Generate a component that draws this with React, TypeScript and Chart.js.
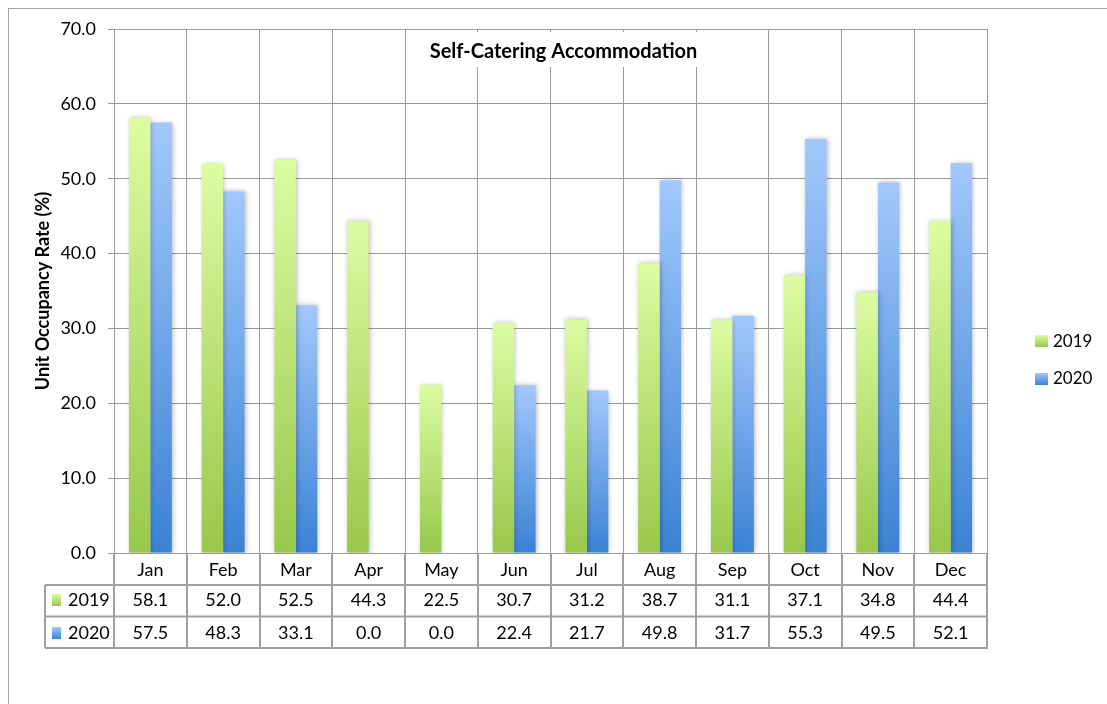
import { useEffect, useRef } from "react";
import { Chart, registerables } from "chart.js";

Chart.register(...registerables);

const months = ["Jan", "Feb", "Mar", "Apr", "May", "Jun", "Jul", "Aug", "Sep", "Oct", "Nov", "Dec"];
const series2019 = [58.1, 52.0, 52.5, 44.3, 22.5, 30.7, 31.2, 38.7, 31.1, 37.1, 34.8, 44.4];
const series2020 = [57.5, 48.3, 33.1, 0.0, 0.0, 22.4, 21.7, 49.8, 31.7, 55.3, 49.5, 52.1];
const seriesLabels = ["2019", "2020"];
const chartTitle = "Self-Catering Accommodation";
const yAxisTitle = "Unit Occupancy Rate (%)";
const yMin = 0;
const yMax = 70;
const yStep = 10;

const FONT = "Lato, 'Open Sans', sans-serif";
const GRID = "#9a9a9a";
const TABLE_LINE = "#a0a0a0";
const gradients = [
  { top: "#dcfca2", bottom: "#98c84a" },
  { top: "#a2c8fc", bottom: "#3a82d4" },
];

function barFill(idx: number) {
  return (ctx: any) => {
    const chart = ctx.chart;
    const fallback = gradients[idx].bottom;
    if (!chart.chartArea || ctx.type !== "data") return fallback;
    const ys = chart.scales.y;
    const y = ys.getPixelForValue(ctx.raw);
    const b = ys.getPixelForValue(0);
    if (b - y < 1) return fallback;
    const g = chart.ctx.createLinearGradient(0, y, 0, b);
    g.addColorStop(0, gradients[idx].top);
    g.addColorStop(1, gradients[idx].bottom);
    return g;
  };
}

function gradBox(c: CanvasRenderingContext2D, idx: number, x: number, y: number, w: number, h: number) {
  const g = c.createLinearGradient(0, y, 0, y + h);
  g.addColorStop(0, gradients[idx].top);
  g.addColorStop(1, gradients[idx].bottom);
  c.fillStyle = g;
  c.fillRect(x, y, w, h);
}

const shadowPlugin = {
  id: "barShadow",
  beforeDatasetsDraw(chart: any) {
    const c = chart.ctx;
    c.save();
    c.shadowColor = "rgba(0,0,0,0.28)";
    c.shadowBlur = 5;
    c.shadowOffsetX = 1;
    c.shadowOffsetY = 0;
  },
  afterDatasetsDraw(chart: any) {
    chart.ctx.restore();
  },
};

const borderPlugin = {
  id: "outerBorder",
  beforeDraw(chart: any) {
    const c = chart.ctx;
    c.save();
    c.fillStyle = "#ffffff";
    c.fillRect(0, 0, chart.width, chart.height);
    c.strokeStyle = "#a6a6a6";
    c.lineWidth = 1;
    c.strokeRect(8.5, 8.5, chart.width + 20, chart.height + 20);
    c.restore();
  },
};

const overlayPlugin = {
  id: "overlay",
  afterDraw(chart: any) {
    const c: CanvasRenderingContext2D = chart.ctx;
    const { left, right, bottom } = chart.chartArea;
    const xs = chart.scales.x;
    const n = months.length;
    const step = (right - left) / n;
    c.save();

    // title with white box
    c.font = `bold 20px ${FONT}`;
    const tw = c.measureText(chartTitle).width;
    const tcx = 563.5;
    c.fillStyle = "#ffffff";
    c.fillRect(tcx - tw / 2 - 19, 32, tw + 38, 35);
    c.fillStyle = "#000000";
    c.textAlign = "center";
    c.textBaseline = "alphabetic";
    c.fillText(chartTitle, tcx, 57.5);

    // data table
    const r1 = 585;
    const r2 = 616.5;
    const r3 = 648;
    const tableLeft = 45;
    c.strokeStyle = TABLE_LINE;
    c.lineWidth = 2;
    c.beginPath();
    for (let i = 0; i <= n; i++) {
      const x = Math.round(left + i * step);
      c.moveTo(x, bottom);
      c.lineTo(x, r3);
    }
    c.moveTo(tableLeft, r1);
    c.lineTo(tableLeft, r3);
    [r1, r2, r3].forEach((y) => {
      c.moveTo(tableLeft, y);
      c.lineTo(right + 1, y);
    });
    c.stroke();

    c.fillStyle = "#000000";
    c.font = `18px ${FONT}`;
    c.textAlign = "center";
    months.forEach((m, i) => {
      const x = xs.getPixelForValue(i);
      c.fillText(m, x, 576);
      c.fillText(series2019[i].toFixed(1), x, 606);
      c.fillText(series2020[i].toFixed(1), x, 639);
    });

    // row headers
    c.textAlign = "left";
    gradBox(c, 0, 52, 594, 9, 12);
    gradBox(c, 1, 52, 627, 9, 12);
    c.fillStyle = "#000000";
    c.fillText(seriesLabels[0], 68, 606);
    c.fillText(seriesLabels[1], 68, 639);

    // legend
    gradBox(c, 0, 1035, 335, 13, 12);
    gradBox(c, 1, 1035, 373, 13, 12);
    c.fillStyle = "#000000";
    c.font = `17px ${FONT}`;
    c.fillText(seriesLabels[0], 1053, 347);
    c.fillText(seriesLabels[1], 1053, 384);

    c.restore();
  },
};

export default function App() {
  const ref = useRef<HTMLCanvasElement | null>(null);
  useEffect(() => {
    if (!ref.current) return;
    const chart = new Chart(ref.current, {
      type: "bar",
      data: {
        labels: months,
        datasets: [
          {
            label: seriesLabels[0],
            data: series2019,
            backgroundColor: barFill(0),
            borderWidth: 0,
            categoryPercentage: 0.59,
            barPercentage: 1.0,
          },
          {
            label: seriesLabels[1],
            data: series2020,
            backgroundColor: barFill(1),
            borderWidth: 0,
            categoryPercentage: 0.59,
            barPercentage: 1.0,
          },
        ],
      },
      options: {
        responsive: false,
        animation: false,
        events: [],
        layout: { padding: { left: 0, top: 29, right: 120, bottom: 151 } },
        plugins: {
          legend: { display: false },
          title: { display: false },
          tooltip: { enabled: false },
        },
        scales: {
          x: {
            type: "category",
            offset: true,
            grid: { offset: true, color: GRID, lineWidth: 1, drawTicks: false },
            border: { display: false },
            ticks: { display: false },
            afterFit: (s: any) => {
              s.height = 0;
            },
          },
          y: {
            min: yMin,
            max: yMax,
            ticks: {
              stepSize: yStep,
              color: "#000000",
              padding: 12,
              font: { family: FONT, size: 18 },
              callback: (v: any) => Number(v).toFixed(1),
            },
            grid: { color: GRID, lineWidth: 1, tickLength: 6 },
            border: { display: true, color: GRID, width: 1 },
            title: {
              display: true,
              text: yAxisTitle,
              color: "#000000",
              font: { family: FONT, size: 18, weight: "bold" },
              padding: { top: 32, bottom: 0 },
            },
            afterFit: (s: any) => {
              s.width = 114;
            },
          },
        },
      },
      plugins: [borderPlugin, shadowPlugin, overlayPlugin],
    } as any);
    return () => chart.destroy();
  }, []);
  return (
    <canvas
      ref={ref}
      width={1107}
      height={704}
      style={{ position: "absolute", left: 0, top: 0, width: 1107, height: 704 }}
    />
  );
}
